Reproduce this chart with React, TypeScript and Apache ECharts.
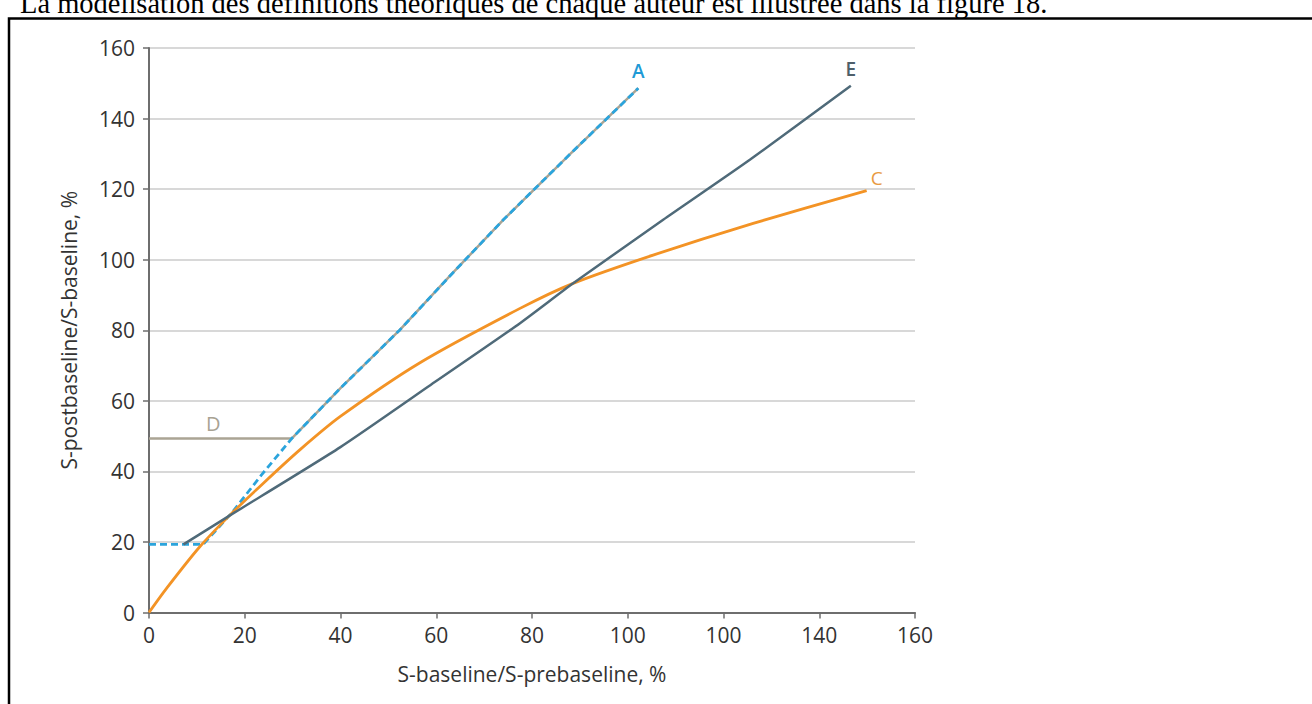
import React, { useEffect, useRef } from "react";
import * as echarts from "echarts";

// Tick labels (the reference prints "100" twice on the x axis)
const xTickLabels = ["0", "20", "40", "60", "80", "100", "100", "140", "160"];
const yTickStep = 20;

// Upper branch shared by A and D (above x ≈ 30)
const upperBranch: [number, number][] = [
  [29.8, 49.3], [40, 63.6], [52.4, 80.1], [63, 95.6], [74, 111.3], [88, 130], [102.2, 148.6],
];
// A lower part (dashed)
const aLower: [number, number][] = [
  [0, 19.3], [11.3, 19.3], [14.2, 23.6], [17.5, 28.6], [23.5, 39],
];
// D lower part (horizontal)
const dLower: [number, number][] = [[0, 49.3], [13.4, 49.3]];
// E
const eSeries: [number, number][] = [
  [7.2, 19.3], [17, 27.6], [39.9, 46.8], [60, 65.6], [77.5, 82], [88.6, 93.3],
  [107.4, 111.3], [125.5, 128.3], [146.6, 149.3],
];
// C
const cSeries: [number, number][] = [
  [0, 0], [3.7, 6.9], [10.65, 18.7], [16.9, 27.6], [24, 36.8], [31.5, 46.1], [39.9, 55.5],
  [56.6, 70.8], [77.5, 86.2], [88.6, 93.3], [105.3, 101.3], [126.2, 110.3], [149.9, 119.6],
];

// Curve labels: name and anchor point on the curve
const curveLabels: { name: string; at: [number, number] }[] = [
  { name: "A", at: [102.2, 148.6] },
  { name: "E", at: [146.6, 149.3] },
  { name: "C", at: [149.9, 119.6] },
  { name: "D", at: [13.4, 49.3] },
];

const FONT = '"Open Sans", sans-serif';

function mark(name: string, color: string, label: any) {
  const item = curveLabels.find((c) => c.name === name)!;
  const lab = {
    show: true,
    formatter: name,
    position: "top",
    color,
    fontFamily: FONT,
    fontSize: 19,
    fontWeight: 600,
    ...label,
  };
  return {
    symbol: "circle",
    symbolSize: 2,
    silent: true,
    itemStyle: { color: "rgba(0,0,0,0)" },
    label: lab,
    data: [{ coord: item.at, label: lab }],
  };
}

export default function App() {
  const ref = useRef<HTMLDivElement>(null);
  useEffect(() => {
    if (!ref.current) return;
    const chart = echarts.init(ref.current, null, { renderer: "svg" });
    const dPts = [...dLower, ...upperBranch];
    const aPts = [...aLower, ...upperBranch];
    chart.setOption({
      animation: false,
      backgroundColor: "#ffffff",
      grid: { left: 149, right: 397, top: 48, bottom: 91.5, containLabel: false },
      xAxis: {
        type: "value",
        min: 0,
        max: 160,
        interval: 20,
        name: "S-baseline/S-prebaseline, %",
        nameLocation: "middle",
        nameGap: 51,
        nameTextStyle: { fontFamily: FONT, fontSize: 21, color: "#333" },
        axisLine: { show: true, lineStyle: { color: "#6e6e6e", width: 2 } },
        axisTick: { show: true, length: 6, lineStyle: { color: "#6e6e6e", width: 1.5 } },
        axisLabel: {
          margin: 12,
          fontFamily: FONT,
          fontSize: 21,
          color: "#333",
          formatter: (v: number) => xTickLabels[Math.round(v / 20)] ?? String(v),
        },
        splitLine: { show: false },
      },
      yAxis: {
        type: "value",
        min: 0,
        max: 160,
        interval: yTickStep,
        name: "S-postbaseline/S-baseline, %",
        nameLocation: "middle",
        nameGap: 70,
        nameTextStyle: { fontFamily: FONT, fontSize: 21, color: "#333" },
        axisLine: { show: true, lineStyle: { color: "#6e6e6e", width: 2 } },
        axisTick: { show: true, length: 6, lineStyle: { color: "#6e6e6e", width: 1.5 } },
        axisLabel: { margin: 14, fontFamily: FONT, fontSize: 21, color: "#333" },
        splitLine: { show: true, lineStyle: { color: "#d8d8d8", width: 2 } },
      },
      graphic: [
        {
          type: "text",
          left: 20,
          top: -11,
          style: {
            text: "La modélisation des définitions théoriques de chaque auteur est illustrée dans la figure 18.",
            font: '28.5px "Liberation Serif", serif',
            fill: "#000",
          },
          z: 10,
        },
        {
          type: "rect",
          shape: { x: 9, y: 18.5, width: 1400, height: 800 },
          style: { fill: "none", stroke: "#000", lineWidth: 2.5 },
          z: 10,
        },
      ],
      series: [
        {
          type: "line",
          name: "D",
          data: dPts,
          showSymbol: false,
          symbol: "none",
          lineStyle: { color: "#aaa494", width: 2.5 },
          markPoint: mark("D", "#a8a293", { fontWeight: 400, fontSize: 20, distance: 4 }),
          z: 2,
        },
        {
          type: "line",
          name: "A",
          data: aPts,
          showSymbol: false,
          symbol: "none",
          lineStyle: { color: "#2ba4dc", width: 2.8, type: [7, 4] },
          markPoint: mark("A", "#1e9ad6", { distance: 7 }),
          z: 3,
        },
        {
          type: "line",
          name: "C",
          data: cSeries,
          showSymbol: false,
          symbol: "none",
          smooth: 0.25,
          lineStyle: { color: "#f39325", width: 2.8 },
          markPoint: mark("C", "#e89a42", { fontWeight: 500, offset: [10, 0], distance: 2 }),
          z: 4,
        },
        {
          type: "line",
          name: "E",
          data: eSeries,
          showSymbol: false,
          symbol: "none",
          smooth: 0.2,
          lineStyle: { color: "#4f6a79", width: 2.5 },
          markPoint: mark("E", "#4e5f6a", { distance: 6 }),
          z: 5,
        },
      ],
    });
    return () => chart.dispose();
  }, []);
  return (
    <div
      ref={ref}
      style={{ position: "fixed", left: 0, top: 0, width: 1312, height: 704, background: "#fff" }}
    />
  );
}
